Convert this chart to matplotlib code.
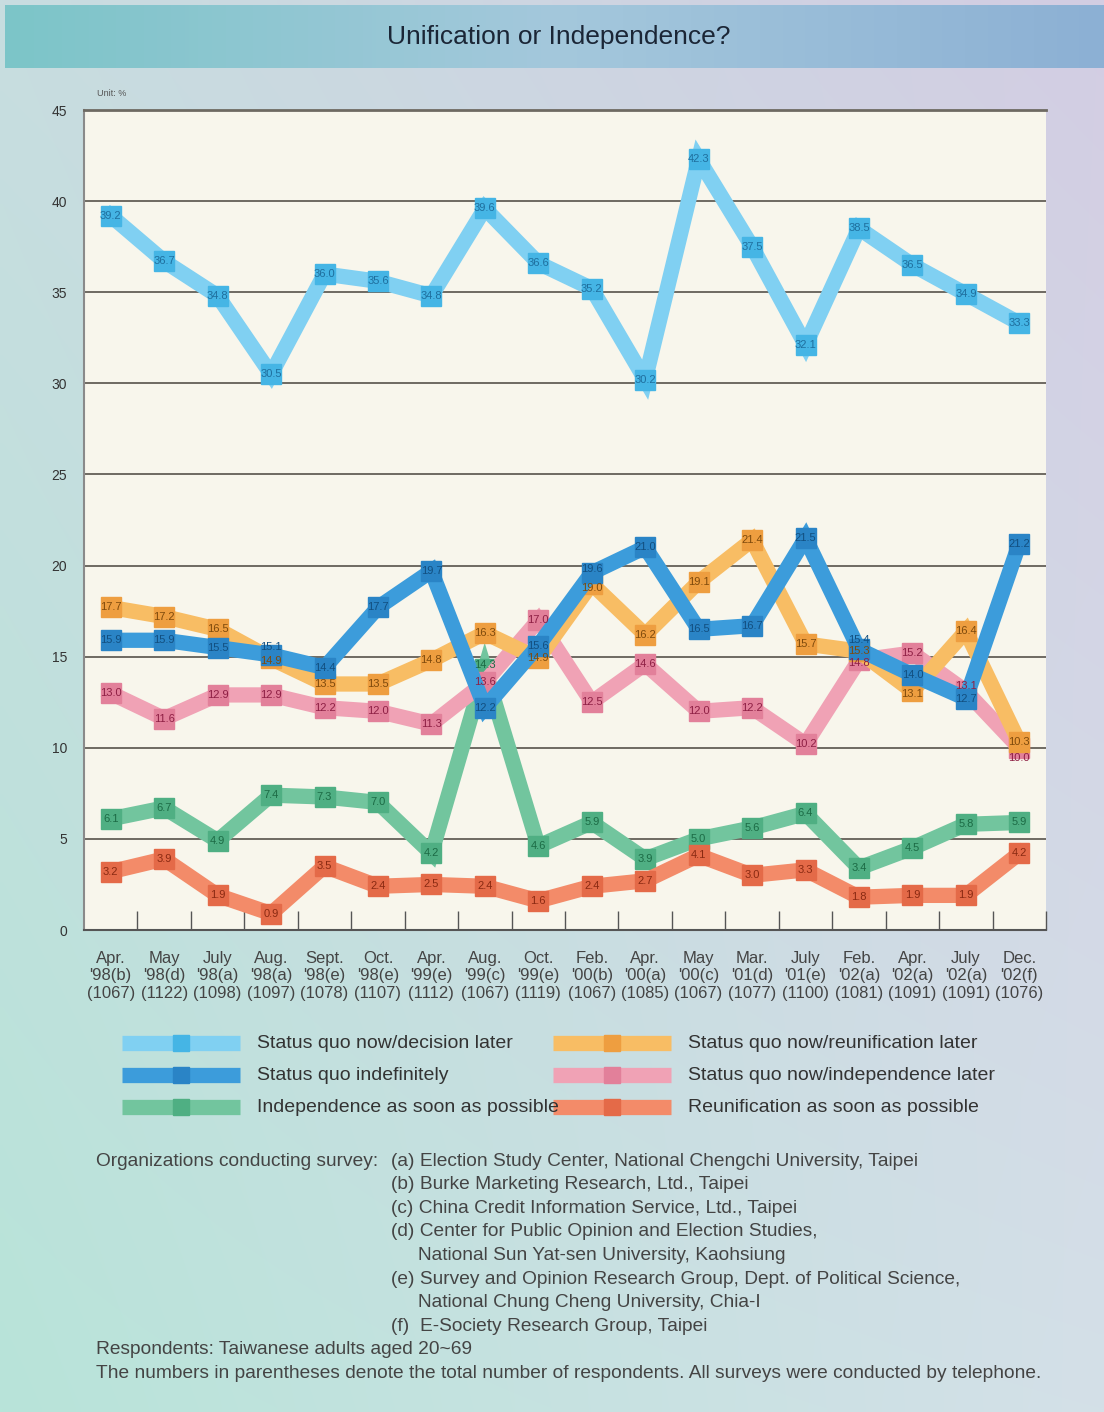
import numpy as np
import matplotlib.pyplot as plt

plt.rcParams['font.family'] = ['Liberation Sans', 'DejaVu Sans']

# Survey dates, sources and sample sizes
months = ["Apr.", "May", "July", "Aug.", "Sept.", "Oct.", "Apr.", "Aug.", "Oct.",
          "Feb.", "Apr.", "May", "Mar.", "July", "Feb.", "Apr.", "July", "Dec."]
years = ["'98(b)", "'98(d)", "'98(a)", "'98(a)", "'98(e)", "'98(e)", "'99(e)", "'99(c)", "'99(e)",
         "'00(b)", "'00(a)", "'00(c)", "'01(d)", "'01(e)", "'02(a)", "'02(a)", "'02(a)", "'02(f)"]
respondents = [1067, 1122, 1098, 1097, 1078, 1107, 1112, 1067, 1119,
               1067, 1085, 1067, 1077, 1100, 1081, 1091, 1091, 1076]

# Unit: %
decision_later = [39.2, 36.7, 34.8, 30.5, 36.0, 35.6, 34.8, 39.6, 36.6,
                  35.2, 30.2, 42.3, 37.5, 32.1, 38.5, 36.5, 34.9, 33.3]
indefinitely = [15.9, 15.9, 15.5, 15.1, 14.4, 17.7, 19.7, 12.2, 15.6,
                19.6, 21.0, 16.5, 16.7, 21.5, 15.4, 14.0, 12.7, 21.2]
reunification_later = [17.7, 17.2, 16.5, 14.9, 13.5, 13.5, 14.8, 16.3, 14.9,
                       19.0, 16.2, 19.1, 21.4, 15.7, 15.3, 13.1, 16.4, 10.3]
independence_later = [13.0, 11.6, 12.9, 12.9, 12.2, 12.0, 11.3, 13.6, 17.0,
                      12.5, 14.6, 12.0, 12.2, 10.2, 14.8, 15.2, 13.1, 10.0]
independence_asap = [6.1, 6.7, 4.9, 7.4, 7.3, 7.0, 4.2, 14.3, 4.6,
                     5.9, 3.9, 5.0, 5.6, 6.4, 3.4, 4.5, 5.8, 5.9]
reunification_asap = [3.2, 3.9, 1.9, 0.9, 3.5, 2.4, 2.5, 2.4, 1.6,
                      2.4, 2.7, 4.1, 3.0, 3.3, 1.8, 1.9, 1.9, 4.2]

W, H = 1104, 1412
fig = plt.figure(figsize=(W / 100, H / 100), dpi=100)

# full-figure layer for background, banner, legend and notes (pixel coords)
deco = fig.add_axes([0, 0, 1, 1])
corners = np.array([[[200, 221, 224], [211, 205, 227]],
                    [[184, 228, 217], [212, 224, 232]]]) / 255.0
ty = np.linspace(0, 1, 200)[:, None, None]
tx = np.linspace(0, 1, 200)[None, :, None]
bg = ((1 - ty) * ((1 - tx) * corners[0, 0] + tx * corners[0, 1])
      + ty * ((1 - tx) * corners[1, 0] + tx * corners[1, 1]))
deco.imshow(bg, extent=(0, W, H, 0), aspect='auto', interpolation='bilinear')

banner_cols = np.array([[124, 197, 200], [164, 200, 220], [140, 176, 212]]) / 255.0
tb = np.linspace(0, 1, 300)
banner = np.stack([np.interp(tb, [0, 0.5, 1], banner_cols[:, c]) for c in range(3)], axis=-1)
deco.imshow(banner[None, :, :], extent=(5, W, 68, 5), aspect='auto', interpolation='bilinear')
deco.set_xlim(0, W)
deco.set_ylim(H, 0)
deco.axis('off')

deco.text(559, 37, "Unification or Independence?", ha='center', va='center',
          fontsize=19, color='#1b2636')
deco.text(97, 93, "Unit: %", ha='left', va='center', fontsize=6.5, color='#555555')

# chart
ax = fig.add_axes([84 / W, 1 - 930 / H, 962 / W, 820 / H])
ax.set_facecolor('#F8F6EC')

series = [
    ("Independence as soon as possible", independence_asap, '#72C59E', '#4FAF83', '#1C6B45'),
    ("Reunification as soon as possible", reunification_asap, '#F38B69', '#E46A48', '#8A2A12'),
    ("Status quo now/independence later", independence_later, '#F0A2B5', '#E2809A', '#8E1F44'),
    ("Status quo now/reunification later", reunification_later, '#F8BD64', '#EE9E40', '#7E4A0C'),
    ("Status quo indefinitely", indefinitely, '#3C9CDB', '#2A84C6', '#124F80'),
    ("Status quo now/decision later", decision_later, '#80D0F2', '#45B5E5', '#1F6F9E'),
]

# nudges (pixels, up) for value labels that would collide
nudge = {(4, 3): 8, (3, 3): -3, (2, 17): -10, (4, 14): 9, (2, 14): -3,
         (2, 16): 5, (0, 7): 4, (3, 15): -3, (4, 9): 4, (3, 9): -4}

x = np.arange(len(months))
for i, (name, vals, lc, mc, tc) in enumerate(series):
    z = 3 + i
    ax.plot(x, vals, color=lc, lw=11, solid_joinstyle='miter', zorder=z)
    ax.plot(x, vals, 's', ms=14, color=mc, zorder=z)
    for xi, v in zip(x, vals):
        ax.annotate(f"{v:.1f}", (xi, v), xytext=(0, nudge.get((i, xi), 0)),
                    textcoords='offset pixels', ha='center', va='center',
                    fontsize=8, color=tc, zorder=20)

ax.set_xlim(-0.5, len(months) - 0.5)
ax.set_ylim(0, 45)
ax.set_yticks(range(0, 50, 5))
ax.yaxis.grid(True, color='#6E6A62', linewidth=1.4)
ax.set_axisbelow(True)
ax.tick_params(axis='y', length=0, pad=12, labelsize=10, labelcolor='#333333')

ax.set_xticks(x)
ax.set_xticklabels([f"{m}\n{y}\n({n})" for m, y, n in zip(months, years, respondents)],
                   fontsize=12, color='#444444', linespacing=1.22)
ax.tick_params(axis='x', which='major', length=0, pad=15)
ax.set_xticks(np.arange(0.5, len(months), 1), minor=True)
ax.tick_params(axis='x', which='minor', direction='in', length=14, width=1, color='#555555')

ax.spines['right'].set_visible(False)
ax.spines['top'].set_color('#6E6A62')
ax.spines['top'].set_linewidth(2)
ax.spines['left'].set_color('#8A8A8A')
ax.spines['left'].set_linewidth(1.5)
ax.spines['bottom'].set_color('#555555')
ax.spines['bottom'].set_linewidth(1.5)

# legend drawn by hand, two columns
legend_order = [5, 3, 4, 2, 0, 1]
for k, idx in enumerate(legend_order):
    name, vals, lc, mc, tc = series[idx]
    col, row = k % 2, k // 2
    y = 1043 + row * 32
    x0 = 122 if col == 0 else 553
    deco.plot([x0, x0 + 118], [y, y], color=lc, lw=11, solid_capstyle='butt')
    deco.plot(x0 + 59, y, 's', ms=12, color=mc)
    deco.text(x0 + 135, y, name, ha='left', va='center', fontsize=14, color='#333333')

notes_left = ["Organizations conducting survey:"]
notes_right = ["(a) Election Study Center, National Chengchi University, Taipei",
               "(b) Burke Marketing Research, Ltd., Taipei",
               "(c) China Credit Information Service, Ltd., Taipei",
               "(d) Center for Public Opinion and Election Studies,",
               "     National Sun Yat-sen University, Kaohsiung",
               "(e) Survey and Opinion Research Group, Dept. of Political Science,",
               "     National Chung Cheng University, Chia-I",
               "(f)  E-Society Research Group, Taipei"]
notes_bottom = ["Respondents: Taiwanese adults aged 20~69",
                "The numbers in parentheses denote the total number of respondents. All surveys were conducted by telephone."]

deco.text(96, 1161, notes_left[0], ha='left', va='center', fontsize=13.8, color='#444444')
for k, line in enumerate(notes_right):
    deco.text(391, 1161 + k * 23.6, line, ha='left', va='center', fontsize=13.8, color='#444444')
for k, line in enumerate(notes_bottom):
    deco.text(96, 1350 + k * 23.6, line, ha='left', va='center', fontsize=13.8, color='#444444')

plt.savefig("out.png", dpi=100)
